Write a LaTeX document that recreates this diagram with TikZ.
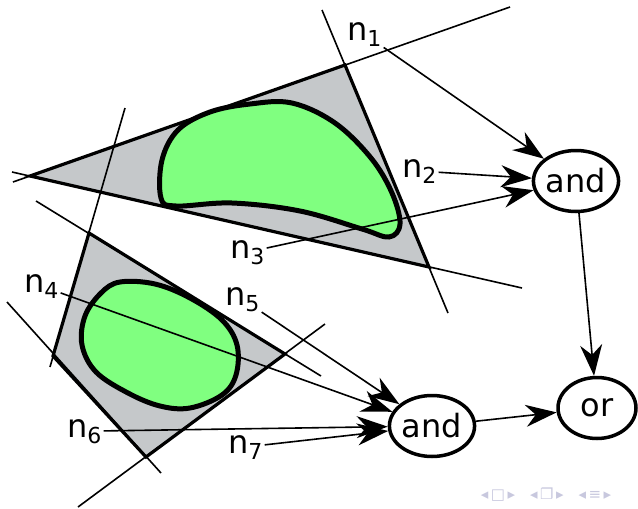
\documentclass[tikz,border=0pt]{standalone}
\usepackage{fontspec}
\setmainfont{DejaVu Sans}
\usepackage{tikz}
\usetikzlibrary{shapes.geometric, arrows.meta}
\definecolor{hullgray}{RGB}{197,200,202}
\definecolor{regiongreen}{RGB}{128,255,128}
\definecolor{navgray}{RGB}{200,200,222}
\tikzstyle{hull} = [draw=black, fill=hullgray, line width=3.2pt, line join=miter]
\tikzstyle{region} = [draw=black, fill=regiongreen, line width=5pt]
\tikzstyle{cut} = [draw, line width=1.6pt, -]
\tikzstyle{gate} = [ellipse, draw=black, line width=3.5pt, fill=white, minimum width=78pt, minimum height=61pt, inner sep=0pt, font=\fontsize{32}{36}\selectfont]
\tikzstyle{lbl} = [inner sep=2pt, anchor=base west, font=\fontsize{32}{36}\selectfont]
\tikzstyle{arrow} = [line width=1.6pt, -{Stealth[length=31pt, width=22pt, inset=10pt]}]
\newcommand{\nsub}[1]{n\raisebox{-6pt}{\fontsize{22}{22}\selectfont #1}}

\begin{document}
\begin{tikzpicture}[x=1pt, y=-1pt]
        \useasboundingbox (0,0) rectangle (638,509);

        % upper hull and its cutting lines
        \draw[hull] (30,176) -- (345,65) -- (429,267) -- cycle;
        \draw[region] plot[smooth cycle, tension=0.6] coordinates {
            (161,198) (162,160) (178,130) (210,112) (250,104) (292,103)
            (335,123) (371,158) (392,193) (400,224) (389,237) (362,229)
            (300,211) (232,203) (176,206)};
        \draw[cut] (13,182) -- (510,7);
        \draw[cut] (12,172) -- (522,288);
        \draw[cut] (322,10) -- (448,313);

        % lower hull and its cutting lines
        \draw[hull] (89,233) -- (53,356) -- (146,457) -- (285,354) -- cycle;
        \draw[region] plot[smooth cycle, tension=0.6] coordinates {
            (120,282) (155,284) (190,298) (222,320) (237,345) (236,375)
            (222,395) (190,408) (160,406) (128,393) (96,372) (82,345)
            (85,316) (101,293)};
        \draw[cut] (125,108) -- (50,367);
        \draw[cut] (36,201) -- (321,376);
        \draw[cut] (7,302) -- (161,473);
        \draw[cut] (325,324) -- (78,507);

        % gates
        \node[gate] (and1) at (576,181) {and};
        \node[gate] (and2) at (432,426) {and};
        \node[gate] (or) at (597,408) {or};

        % labels
        \node[lbl] (n1) at (345,40) {\nsub{1}};
        \node[lbl] (n2) at (400,177) {\nsub{2}};
        \node[lbl] (n3) at (228,258) {\nsub{3}};
        \node[lbl] (n4) at (22,292) {\nsub{4}};
        \node[lbl] (n5) at (223,305) {\nsub{5}};
        \node[lbl] (n6) at (65,437) {\nsub{6}};
        \node[lbl] (n7) at (226,453) {\nsub{7}};

        \draw[arrow] (n1) -- (and1);
        \draw[arrow] (n2) -- (and1);
        \draw[arrow] (n3) -- (and1);
        \draw[arrow] (n4) -- (and2);
        \draw[arrow] (n5) -- (and2);
        \draw[arrow] (n6) -- (and2);
        \draw[arrow] (n7) -- (and2);
        \draw[arrow] (and1) -- (or);
        \draw[arrow] (and2) -- (or);

        % navigation symbols
        \node[text=navgray, font=\fontsize{15}{15}\selectfont] (nav) at (546,495) {◂\,□\,▸\quad◂\,❐\,▸\quad◂\,≡\,▸};
    \end{tikzpicture}
\end{document}
